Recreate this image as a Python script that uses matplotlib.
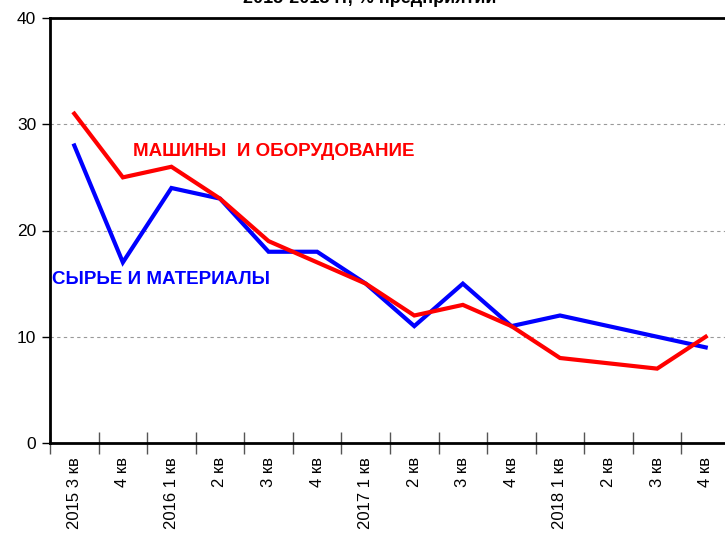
import numpy as np
import matplotlib
matplotlib.use("Agg")
import matplotlib.pyplot as plt
from matplotlib.ticker import FixedLocator, NullFormatter, FixedFormatter

plt.rcParams['font.family'] = ['Liberation Sans', 'DejaVu Sans']

# quarters
quarters = ['2015 3 кв', '4 кв', '2016 1 кв', '2 кв', '3 кв', '4 кв',
            '2017 1 кв', '2 кв', '3 кв', '4 кв',
            '2018 1 кв', '2 кв', '3 кв', '4 кв']
# % of enterprises (nan = no survey point, line goes straight across)
machines = [31, 25, 26, 23, 19, np.nan, 15, 12, 13, 11, 8, np.nan, 7, 10]
materials = [28, 17, 24, 23, 18, 18, 15, 11, 15, 11, 12, np.nan, 10, 9]
title = '2015-2018 гг, % предприятий'

fig = plt.figure(figsize=(7.25, 5.33), dpi=100)
ax = fig.add_axes([50/725, 90/533, 680/725, 425/533])

x = np.arange(len(quarters))
for vals, col in [(materials, '#0000ff'), (machines, '#ff0000')]:
    v = np.array(vals, dtype=float)
    ok = ~np.isnan(v)
    ax.plot(x[ok], v[ok], color=col, lw=3, solid_joinstyle='miter')

ax.set_xlim(-0.5, len(quarters) - 0.5)
ax.set_ylim(0, 40)
ax.set_yticks([0, 10, 20, 30, 40])
ax.tick_params(axis='y', labelsize=12.5, length=6, width=1, pad=4, colors='black')
ax.yaxis.grid(True, ls=(0, (3, 3)), color='#999999', lw=0.8)

ax.xaxis.set_major_locator(FixedLocator(np.arange(len(quarters) + 1) - 0.5))
ax.xaxis.set_major_formatter(NullFormatter())
ax.xaxis.set_minor_locator(FixedLocator(x))
ax.xaxis.set_minor_formatter(FixedFormatter(quarters))
ax.tick_params(axis='x', which='major', direction='inout', length=16, width=1, color='#555555')
ax.tick_params(axis='x', which='minor', length=0, labelsize=12, labelrotation=90, pad=10)

for s in ['left', 'bottom', 'top']:
    ax.spines[s].set_linewidth(2)
    ax.spines[s].set_color('black')
ax.spines['right'].set_visible(False)

ax.text(1.2, 27.4, 'МАШИНЫ  И ОБОРУДОВАНИЕ', color='#ff0000', fontsize=13.5,
        fontweight='bold', va='center')
ax.text(-0.45, 15.4, 'СЫРЬЕ И МАТЕРИАЛЫ', color='#0000ff', fontsize=13.5,
        fontweight='bold', va='center')

# title is mostly outside the picture, as in the source
fig.text(0.51, 1 - 3/533, title, ha='center', va='baseline', fontsize=13,
         fontweight='bold')

fig.savefig('out.png', dpi=100)
